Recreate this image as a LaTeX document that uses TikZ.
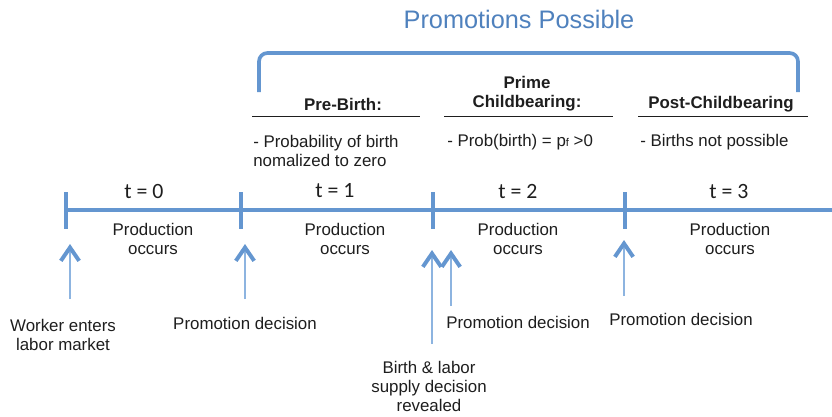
\documentclass[tikz,border=0pt]{standalone}
\usepackage{fontspec}
\setmainfont{Liberation Sans}
\newfontfamily\calfont{Carlito}
\usepackage{tikz}
\usetikzlibrary{arrows.meta,positioning}
\definecolor{titleblue}{HTML}{4F81BD}
\definecolor{lineblue}{HTML}{6496D0}
\definecolor{shaftblue}{HTML}{8DB4E0}
\definecolor{inkdark}{HTML}{1E1E1E}
\tikzset{
  tline/.style={lineblue,line width=2.85pt},
  bracketline/.style={lineblue,line width=2.6pt,rounded corners=6pt},
  uparrow/.style={shaftblue,line width=1.4pt,
    -{Straight Barb[length=9.5pt,width=13pt,line width=2.8pt,color=lineblue]}},
  txt/.style={inner sep=0pt,text=inkdark,font=\fontsize{12}{13.5}\selectfont,align=center},
  head/.style={txt,font=\fontsize{12}{13.5}\selectfont\bfseries},
  desc/.style={txt,align=left,anchor=west},
  tlabel/.style={inner sep=0pt,text=inkdark,font=\calfont\fontsize{15.5}{16}\selectfont},
  uline/.style={inkdark,line width=0.7pt},
}
\begin{document}
\begin{tikzpicture}[x=0.025cm,y=-0.025cm]
  \useasboundingbox (0,0) rectangle (832,416);
  % Title and bracket
  \node[titleblue,font=\fontsize{18}{20}\selectfont,inner sep=0pt](title)at(519,19){Promotions Possible};
  \draw[bracketline](259,92)--(259,53)--(798,53)--(798,92);
  % Phase headings
  \node[head](hpre)at(343,104){Pre-Birth:};
  \node[head](hprime)at(527,94){Prime\\Childbearing:};
  \node[head](hpost)at(721,104){Post-Childbearing};
  \draw[uline](252,116)--(420,116);
  \draw[uline](444,116)--(613,116);
  \draw[uline](638,116)--(808,116);
  \node[desc](dpre)at(253,151){- Probability of birth\\nomalized to zero};
  \node[desc](dprime)at(447,142){- Prob(birth) = p{\fontsize{8}{9}\selectfont f} >0};
  \node[desc](dpost)at(640,142){- Births not possible};
  % Timeline
  \draw[tline](66,210)--(832,210);
  \foreach \x in {66,241,433,625}{
    \draw[tline](\x,192)--(\x,229);}
  \node[tlabel](t0)at(144,191){t = 0};
  \node[tlabel](t1)at(335,191){t = 1};
  \node[tlabel](t2)at(518,191){t = 2};
  \node[tlabel](t3)at(729,191){t = 3};
  \foreach \n/\x in {0/153,1/345,2/518,3/730}{
    \node[txt](prod\n)at(\x,239){Production\\occurs};}
  % Events
  \foreach \n/\x/\yb/\yt in {0/70/299/244,1/245/299/244,2/432/344/250,3/451/306/250,4/624/296/240}{
    \coordinate(s\n)at(\x,\yb);
    \coordinate(e\n)at(\x,\yt);
    \draw[uparrow](s\n)--(e\n);}
  \node[txt](lworker)at(63,335){Worker enters\\labor market};
  \node[txt](lpromo1)at(245,323){Promotion decision};
  \node[txt](lbirth)at(429,386){Birth \& labor\\supply decision\\revealed};
  \node[txt,anchor=west](lpromo2)at(446,322){Promotion decision};
  \node[txt,anchor=west](lpromo3)at(609,319){Promotion decision};
\end{tikzpicture}
\end{document}
